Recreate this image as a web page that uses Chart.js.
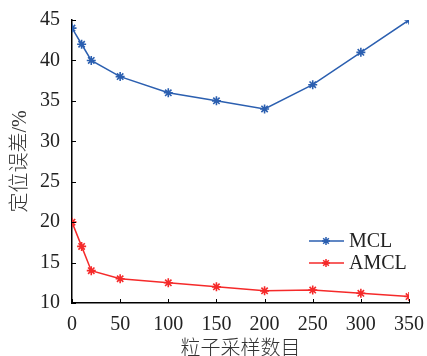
<!DOCTYPE html>
<html>
<head>
<meta charset="utf-8">
<script src="https://cdn.jsdelivr.net/npm/chart.js@4.4.1/dist/chart.umd.min.js"></script>
<style>
  html, body { margin: 0; padding: 0; background: #fff; }
  #wrap { width: 427px; height: 356px; }
</style>
</head>
<body>
<div id="wrap"><canvas id="c" width="427" height="356"></canvas></div>
<script>
const samples = [0, 10, 20, 50, 100, 150, 200, 250, 300, 350]
const mcl = [44, 42, 40, 38, 36, 35, 34, 37, 41, 45]
const amcl = [20, 17, 14, 13, 12.5, 12, 11.5, 11.6, 11.2, 10.8]
const xTicks = [0, 50, 100, 150, 200, 250, 300, 350]
const yTicks = [10, 15, 20, 25, 30, 35, 40, 45]

const BLUE = '#2b5fb0'
const RED = '#f52a2a'
const FONT = '"Liberation Serif", "Times New Roman", "Noto Sans CJK SC", serif'

function toPoints(ys) {
  return samples.map((x, i) => ({ x, y: ys[i] }))
}

// inward ticks + legend drawn by hand, like the original figure
const decor = {
  id: 'decor',
  afterDraw(chart) {
    const { ctx, chartArea: a, scales } = chart
    ctx.save()
    ctx.strokeStyle = '#000'
    ctx.lineWidth = 1
    ctx.beginPath()
    xTicks.forEach(v => {
      const px = Math.round(scales.x.getPixelForValue(v)) + 0.5
      ctx.moveTo(px, a.bottom)
      ctx.lineTo(px, a.bottom - 4)
    })
    yTicks.forEach(v => {
      const py = Math.round(scales.y.getPixelForValue(v)) + 0.5
      ctx.moveTo(a.left, py)
      ctx.lineTo(a.left + 4, py)
    })
    ctx.stroke()

    // legend
    chart.data.datasets.forEach((ds, i) => {
      const y = 241 + i * 22
      ctx.strokeStyle = ds.borderColor
      ctx.lineWidth = 1.5
      ctx.beginPath()
      ctx.moveTo(309, y)
      ctx.lineTo(344, y)
      ctx.stroke()
      Chart.helpers.drawPoint(ctx, { pointStyle: 'star', radius: 4, borderWidth: 1.6 }, 326, y)
      ctx.fillStyle = '#222'
      ctx.font = '20px ' + FONT
      ctx.textBaseline = 'middle'
      ctx.fillText(ds.label, 349, y + 1)
    })
    ctx.restore()
  },
}

new Chart(document.getElementById('c'), {
  type: 'scatter',
  data: {
    datasets: [
      {
        label: 'MCL',
        data: toPoints(mcl),
        showLine: true,
        borderColor: BLUE,
        backgroundColor: BLUE,
        borderWidth: 1.5,
        pointStyle: 'star',
        pointRadius: 4.5,
        pointBorderWidth: 1.6,
      },
      {
        label: 'AMCL',
        data: toPoints(amcl),
        showLine: true,
        borderColor: RED,
        backgroundColor: RED,
        borderWidth: 1.5,
        pointStyle: 'star',
        pointRadius: 4.5,
        pointBorderWidth: 1.6,
      },
    ],
  },
  options: {
    animation: false,
    responsive: false,
    layout: { padding: { top: 20, right: 18, left: 0, bottom: 0 } },
    plugins: {
      legend: { display: false },
      tooltip: { enabled: false },
    },
    scales: {
      x: {
        type: 'linear',
        min: 0,
        max: 350,
        afterBuildTicks: s => { s.ticks = xTicks.map(value => ({ value })) },
        afterFit: s => { s.height = 53 },
        grid: { display: false },
        border: { display: true, color: '#000', width: 1.5 },
        ticks: { color: '#222', font: { family: FONT, size: 20 }, padding: 2, maxRotation: 0 },
        title: {
          display: true,
          text: '粒子采样数目',
          color: '#333',
          font: { family: FONT, size: 20, lineHeight: 1, weight: 300 },
          padding: { top: 0, bottom: -4 },
        },
      },
      y: {
        min: 10,
        max: 45,
        afterBuildTicks: s => { s.ticks = yTicks.map(value => ({ value })) },
        afterFit: s => { s.width = 72 },
        grid: { display: false },
        border: { display: true, color: '#000', width: 1.5 },
        ticks: { color: '#222', font: { family: FONT, size: 20 }, padding: 4 },
        title: {
          display: true,
          text: '定位误差/%',
          color: '#333',
          font: { family: FONT, size: 20, lineHeight: 1, weight: 300 },
          padding: { top: 11, bottom: 0 },
        },
      },
    },
  },
  plugins: [decor],
})
</script>
</body>
</html>
